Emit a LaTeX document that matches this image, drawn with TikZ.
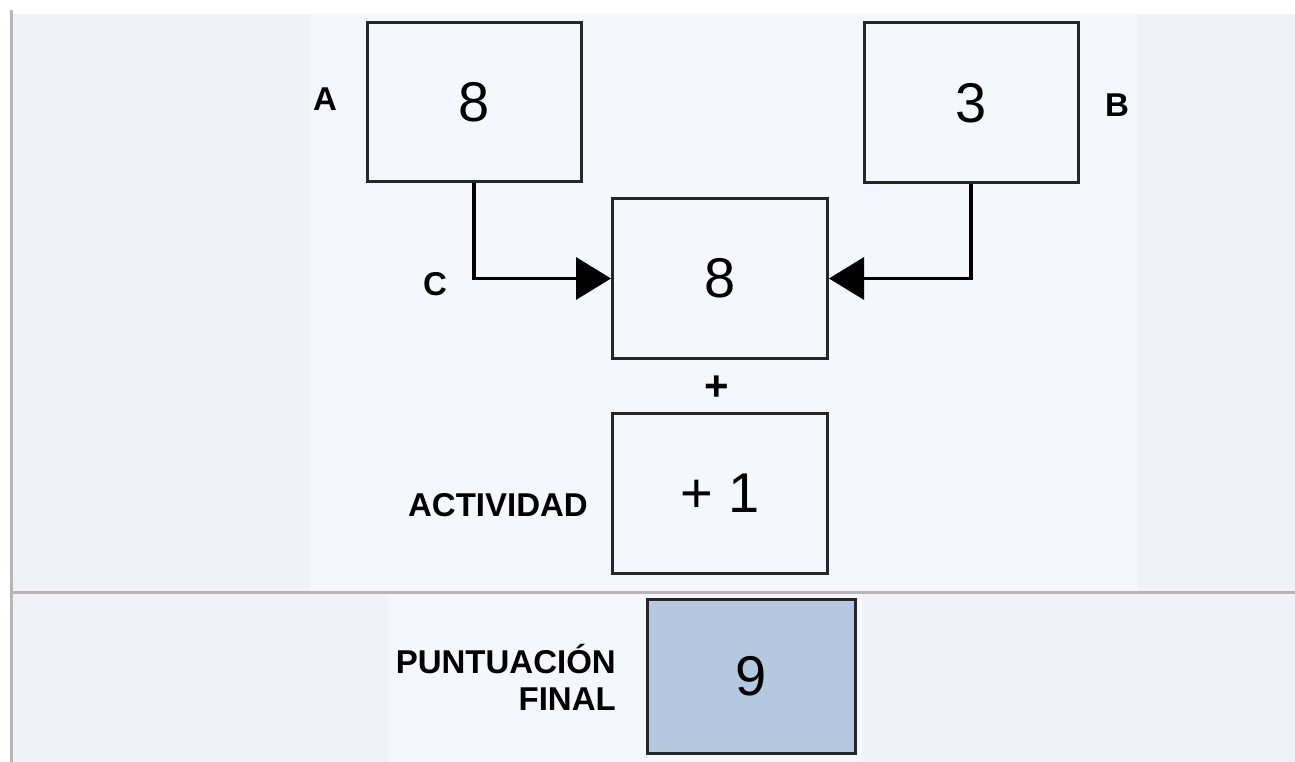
\documentclass[tikz,border=0pt]{standalone}
\usepackage{fontspec}
\setmainfont{Liberation Sans}
\usetikzlibrary{arrows.meta}
\definecolor{outerbg}{HTML}{EFF2F7}
\definecolor{innerbg}{HTML}{F4F7FB}
\definecolor{rulecol}{HTML}{BCB3B4}
\definecolor{boxline}{HTML}{262626}
\definecolor{finalfill}{HTML}{B4C8DF}
\tikzset{
  numbox/.style={draw=boxline, line width=3pt, fill=innerbg, minimum width=#1, inner sep=0pt,
     font=\fontsize{56}{60}\selectfont},
  lab/.style={inner sep=0pt, font=\fontsize{33}{36}\selectfont\bfseries},
  conn/.style={draw=black, line width=3.5pt, -{Triangle[length=35pt,width=42pt]}},
}
\begin{document}
\begin{tikzpicture}[x=1pt,y=-1pt]
\useasboundingbox (0,0) rectangle (1295,762);
\fill[white] (0,0) rectangle (1295,762);
\fill[outerbg] (13,14) rectangle (1295,762);
\fill[innerbg] (310,14) rectangle (1137,591);
\fill[innerbg] (388,594) rectangle (862,762);
\fill[rulecol] (10,10) rectangle (13,762);
\fill[rulecol] (13,591) rectangle (1295,594);

\node[numbox=214pt, minimum height=159pt] (Abox) at (474,102) {8};
\node[numbox=214pt, minimum height=160pt] (Bbox) at (971,103) {3};
\node[numbox=215pt, minimum height=159pt] (Mbox) at (720,278.5) {8};
\node[numbox=215pt, minimum height=160pt] (Actbox) at (720,493) {+ 1};
\node[numbox=208pt, minimum height=154pt, fill=finalfill] (Fbox) at (751,676) {9};

\node[lab] (Alab) at (325,99) {A};
\node[lab] (Blab) at (1117,105) {B};
\node[lab] (Clab) at (435,284) {C};
\node[lab, font=\fontsize{42}{44}\selectfont\bfseries] (plus) at (717,388) {+};
\node[lab, anchor=east] (actlab) at (588,505) {ACTIVIDAD};
\node[lab, anchor=base east] (pf1) at (616,673) {PUNTUACIÓN};
\node[lab, anchor=base east] (pf2) at (616,710) {FINAL};

\draw[conn] (Abox.south) |- (Mbox.west);
\draw[conn] (Bbox.south) |- (Mbox.east);
\end{tikzpicture}
\end{document}
